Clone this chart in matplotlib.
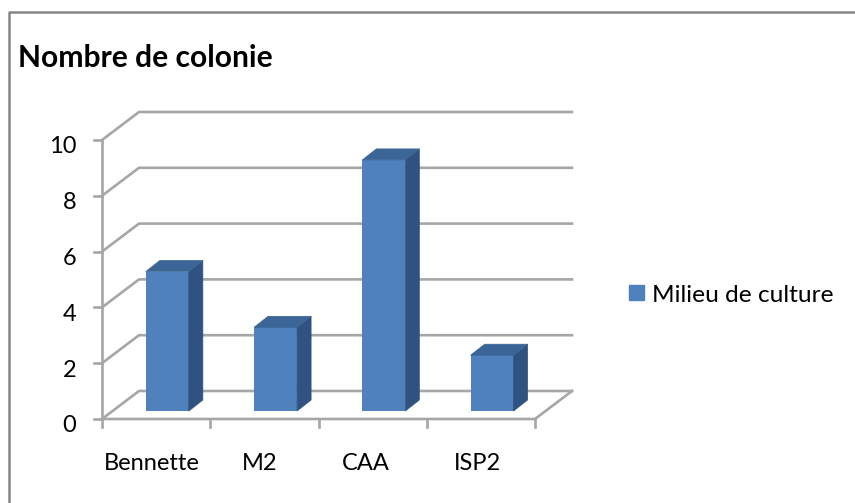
import matplotlib
matplotlib.use("Agg")
import matplotlib.pyplot as plt
from matplotlib.patches import Polygon, Rectangle

plt.rcParams['font.family'] = ['Lato', 'DejaVu Sans']

categories = ["Bennette", "M2", "CAA", "ISP2"]
valeurs = [5, 3, 9, 2]
graduations = [0, 2, 4, 6, 8, 10]
titre = "Nombre de colonie"
legende = "Milieu de culture"

L, H = 855, 503
gris = "#a6a6a6"
bleu = "#4f81bd"
bleu_dessus = "#3a6596"
bleu_cote = "#2f5280"
ep = 1.9

fig = plt.figure(figsize=(L / 100, H / 100), dpi=100)

# cadre du graphique : seuls les bords gauche et haut sont visibles
fig.add_artist(plt.Line2D([9 / L, 9 / L, 1], [0, 1 - 12 / H, 1 - 12 / H], color="#868686",
                          lw=1.8, transform=fig.transFigure))

# le repere correspond au plan avant de l'histogramme
ax = fig.add_axes([102 / L, 1 - 419 / H, 433 / L, 279 / H])
ax.set_xlim(0, 4)
ax.set_ylim(0, 10)
ax.axis("off")

# decalage de la perspective, en unites des axes
prof_x = 37 / 108.25
prof_y = 28 / 27.9

# grilles : mur du fond et sol
for g in graduations:
    ax.plot([0, prof_x, 4 + prof_x], [g, g + prof_y, g + prof_y], color=gris,
            lw=ep, clip_on=False, zorder=1)
    ax.plot([-0.07, 0], [g, g], color=gris, lw=ep, clip_on=False, zorder=1)
    ax.text(-0.24, g - 0.25, str(g), ha="right", va="center", fontsize=17, clip_on=False)
ax.plot([0, 0], [0, 10], color=gris, lw=ep, clip_on=False, zorder=1)
ax.plot([0, 4, 4 + prof_x], [0, 0, prof_y], color=gris, lw=ep, clip_on=False, zorder=1)

for i in range(5):
    ax.plot([i, i], [0, -0.3], color=gris, lw=ep, clip_on=False, zorder=1)

# barres
larg = 43 / 108.25
ecart_x = 0.405
ecart_y = 8 / 27.9
dx = 14 / 108.25
dy = 11 / 27.9
for i, v in enumerate(valeurs):
    x0 = i + ecart_x
    x1 = x0 + larg
    y0 = ecart_y
    y1 = y0 + v
    ax.bar(x0, v, width=larg, bottom=y0, align="edge", color=bleu, zorder=3, clip_on=False)
    ax.add_patch(Polygon([(x1, y0), (x1 + dx, y0 + dy), (x1 + dx, y1 + dy), (x1, y1)],
                         facecolor=bleu_cote, edgecolor=bleu_cote, lw=0.5, zorder=3, clip_on=False))
    ax.add_patch(Polygon([(x0, y1), (x0 + dx, y1 + dy), (x1 + dx, y1 + dy), (x1, y1)],
                         facecolor=bleu_dessus, edgecolor=bleu_dessus, lw=0.5, zorder=3, clip_on=False))

# etiquettes des categories
positions = [152, 260, 366, 477]
for p, c in zip(positions, categories):
    fig.text(p / L, 1 - 464 / H, c, ha="center", va="center", fontsize=17)

fig.text(18 / L, 1 - 58 / H, titre, ha="left", va="center", fontsize=21.6, fontweight="bold")

# legende
fig.add_artist(Rectangle((629 / L, 1 - 300 / H), 15 / L, 15 / H, color=bleu,
                         transform=fig.transFigure))
fig.text(652 / L, 1 - 295 / H, legende, ha="left", va="center", fontsize=17.6)

fig.savefig("out.png", dpi=100)
